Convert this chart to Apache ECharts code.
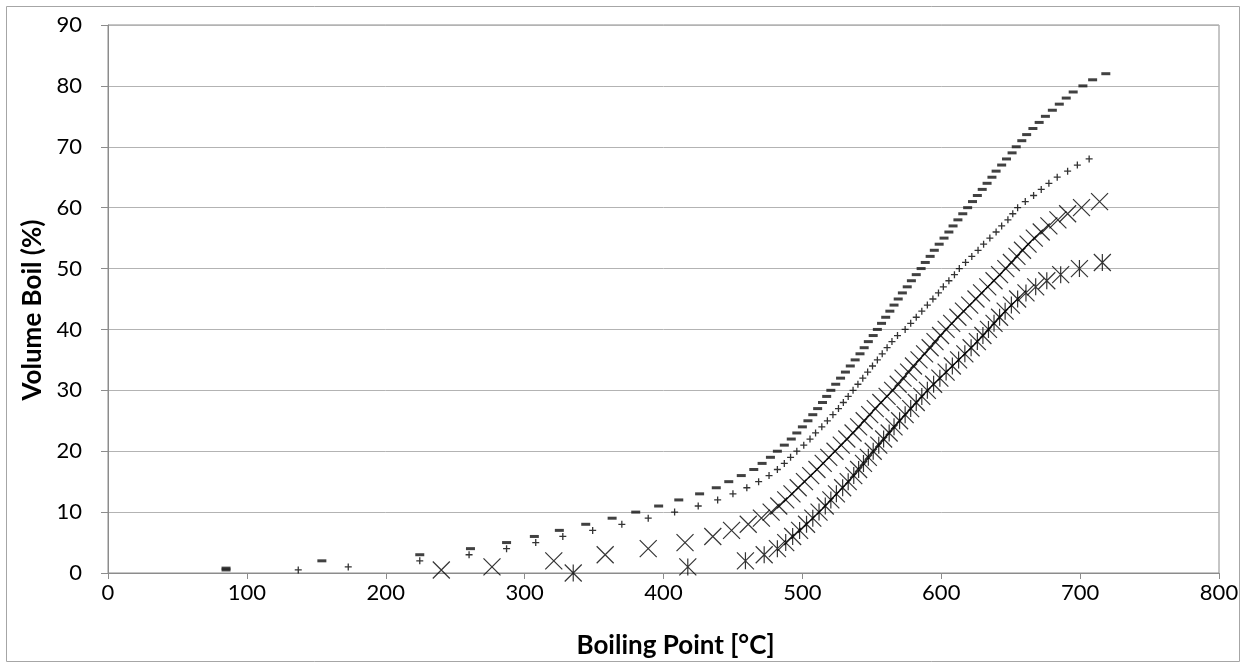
<!DOCTYPE html>
<html>
<head>
<meta charset="utf-8">
<title>Volume Boil vs Boiling Point</title>
<script src="https://cdn.jsdelivr.net/npm/echarts@6/dist/echarts.min.js"></script>
<style>
  html, body { margin: 0; padding: 0; background: #ffffff; }
  #chart { width: 1246px; height: 669px; }
</style>
</head>
<body>
<div id="chart"></div>
<script>
// Axis ticks
const xTicks = [0, 100, 200, 300, 400, 500, 600, 700, 800];
const yTicks = [0, 10, 20, 30, 40, 50, 60, 70, 80, 90];

// Sample A (dash markers): boiling point [°C] and cumulative volume boiled [%]
const tempA = [85, 85, 154, 224.5, 261, 287, 307, 325, 344, 363, 380, 396.5, 411, 426, 438, 447, 456, 465, 471, 477, 482,
  487, 492, 496, 500, 504, 507.5, 511, 514.5, 517.5, 520.5, 524, 527.5, 531, 534.5, 538, 541.5, 544.5, 547.5, 551, 554,
  557, 560, 563, 566, 569, 572, 575.5, 578.5, 582, 585.5, 588.5, 592, 595, 598.5, 602, 605.5, 608.5, 612, 615.5, 619,
  622.5, 626, 629.5, 633, 636.5, 639.5, 643.5, 647, 651, 654, 658, 661.5, 666, 670.5, 675, 680, 685, 690, 695, 702,
  709, 718.5];
const volA = [0.5, 0.8, 2, 3, 4, 5, 6, 7, 8, 9, 10, 11, 12, 13, 14, 15, 16, 17, 18, 19, 20,
  21, 22, 23, 24, 25, 26, 27, 28, 29, 30, 31, 32, 33, 34, 35, 36, 37, 38, 39, 40,
  41, 42, 43, 44, 45, 46, 47, 48, 49, 50, 51, 52, 53, 54, 55, 56, 57, 58, 59, 60,
  61, 62, 63, 64, 65, 66, 67, 68, 69, 70, 71, 72, 73, 74, 75, 76, 77, 78, 79, 80,
  81, 82];

// Sample B (plus markers)
const tempB = [137, 173, 224.5, 260, 287, 308, 327.5, 349, 370, 389, 408, 425, 439, 450, 460, 468.5, 476, 482, 487, 491.5,
  496, 501, 505.5, 509.5, 514, 518, 522, 526, 529.5, 533, 536.5, 540, 543.5, 547, 550.5, 554, 557.5, 561, 564.5,
  568.5, 574, 578, 582, 586, 590, 594, 598, 601.5, 605.5, 609.5, 613, 617.5, 622, 626.5, 630.5, 635, 639.5, 643.5,
  648, 651.5, 655, 660.5, 666.5, 672, 677.5, 683.5, 691, 698, 706.5];
const volB = [0.5, 1, 2, 3, 4, 5, 6, 7, 8, 9, 10, 11, 12, 13, 14, 15, 16, 17, 18, 19,
  20, 21, 22, 23, 24, 25, 26, 27, 28, 29, 30, 31, 32, 33, 34, 35, 36, 37, 38,
  39, 40, 41, 42, 43, 44, 45, 46, 47, 48, 49, 50, 51, 52, 53, 54, 55, 56, 57,
  58, 59, 60, 61, 62, 63, 64, 65, 66, 67, 68];

// Sample C (cross markers)
const tempC = [240, 276.5, 321, 358, 389, 415.5, 435.5, 449, 461, 470.5, 477.5, 483, 488, 492.5, 497, 501.5, 506, 510.5,
  515, 519, 523.5, 528, 532, 536.5, 540.5, 544.5, 548.5, 552.5, 556.5, 561, 565, 569, 572.5, 576.5, 580, 584, 588,
  592, 595.5, 599.5, 603.5, 607.5, 612, 616, 620.5, 625, 629, 633.5, 638, 642, 646.5, 650.5, 654.5, 658.5, 662.5,
  667, 672, 677.5, 684, 691, 701, 714];
const volC = [0.5, 1, 2, 3, 4, 5, 6, 7, 8, 9, 10, 11, 12, 13, 14, 15, 16, 17,
  18, 19, 20, 21, 22, 23, 24, 25, 26, 27, 28, 29, 30, 31, 32, 33, 34, 35, 36,
  37, 38, 39, 40, 41, 42, 43, 44, 45, 46, 47, 48, 49, 50, 51, 52, 53, 54,
  55, 56, 57, 58, 59, 60, 61];

// Sample D (star markers)
const tempD = [335, 417.5, 459, 472.5, 482, 488, 493, 498, 503, 507.5, 512, 516.5, 520.5, 524.5, 529, 533, 537,
  540.5, 544, 547.5, 551, 555, 558.5, 562.5, 566, 570, 574, 578, 582, 586, 590, 594.5, 599, 603.5,
  608, 612.5, 617, 621.5, 626, 630, 634, 638, 642, 646, 650.5, 655, 661, 668, 676, 686, 699.5, 716];
const volD = [0, 1, 2, 3, 4, 5, 6, 7, 8, 9, 10, 11, 12, 13, 14, 15, 16,
  17, 18, 19, 20, 21, 22, 23, 24, 25, 26, 27, 28, 29, 30, 31, 32, 33,
  34, 35, 36, 37, 38, 39, 40, 41, 42, 43, 44, 45, 46, 47, 48, 49, 50, 51];

// Marker shapes
const PLUS = 'path://M0,5L10,5M5,0L5,10';
const CROSS = 'path://M0,0L10,10M10,0L0,10';
const STAR = 'path://M0,0L10,10M10,0L0,10M5,0L5,10';

function pairs(xs, ys) {
  return xs.map((x, i) => [x, ys[i]]);
}

const FONT = 'Lato, "Open Sans", "Liberation Sans", sans-serif';
const chart = echarts.init(document.getElementById('chart'), null, { renderer: 'canvas' });

const strokeMarker = { color: 'rgba(0,0,0,0)', borderColor: '#000000', borderWidth: 1.2 };

chart.setOption({
  animation: false,
  backgroundColor: '#ffffff',
  grid: {
    left: 108, right: 27, top: 25, bottom: 96,
    show: true, borderColor: '#8c8c8c', borderWidth: 1, backgroundColor: 'transparent'
  },
  graphic: [{
    type: 'rect',
    shape: { x: 6.5, y: 6.5, width: 1233, height: 655 },
    style: { fill: 'none', stroke: '#a6a6a6', lineWidth: 1 },
    silent: true, z: -10
  }],
  xAxis: {
    type: 'value',
    min: xTicks[0], max: xTicks[xTicks.length - 1], interval: xTicks[1] - xTicks[0],
    name: 'Boiling Point [°C]',
    nameLocation: 'middle', nameGap: 60,
    nameTextStyle: { fontFamily: FONT, fontSize: 26, fontWeight: 'bold', color: '#000', padding: [0, 0, 0, 24] },
    axisLine: { show: true, onZero: false, lineStyle: { color: '#8c8c8c', width: 1 } },
    axisTick: { show: true, inside: false, length: 6, lineStyle: { color: '#8c8c8c' } },
    axisLabel: { fontFamily: FONT, fontSize: 22, color: '#000', margin: 9 },
    splitLine: { show: false }
  },
  yAxis: {
    type: 'value',
    min: yTicks[0], max: yTicks[yTicks.length - 1], interval: yTicks[1] - yTicks[0],
    name: 'Volume Boil (%)',
    nameLocation: 'middle', nameGap: 62, nameRotate: 90,
    nameTextStyle: { fontFamily: FONT, fontSize: 26, fontWeight: 'bold', color: '#000', padding: [0, 22, 0, 0] },
    axisLine: { show: true, lineStyle: { color: '#8c8c8c', width: 1 } },
    axisTick: { show: true, inside: false, length: 7, lineStyle: { color: '#8c8c8c' } },
    axisLabel: { fontFamily: FONT, fontSize: 22, color: '#000', margin: 26 },
    splitLine: { show: true, lineStyle: { color: '#b3b3b3', width: 1 } }
  },
  series: [
    {
      name: 'A', type: 'scatter', data: pairs(tempA, volA),
      symbol: 'rect', symbolSize: [9, 3],
      itemStyle: { color: '#111111' }, silent: true
    },
    {
      name: 'B', type: 'scatter', data: pairs(tempB, volB),
      symbol: PLUS, symbolSize: 7, symbolKeepAspect: true,
      itemStyle: Object.assign({}, strokeMarker, { borderWidth: 1.3 }), silent: true
    },
    {
      name: 'C', type: 'scatter', data: pairs(tempC, volC),
      symbol: CROSS, symbolSize: 17, symbolKeepAspect: true,
      itemStyle: strokeMarker, silent: true
    },
    {
      name: 'D', type: 'scatter', data: pairs(tempD, volD),
      symbol: STAR, symbolSize: 17, symbolKeepAspect: true,
      itemStyle: strokeMarker, silent: true
    }
  ]
});
</script>
</body>
</html>
